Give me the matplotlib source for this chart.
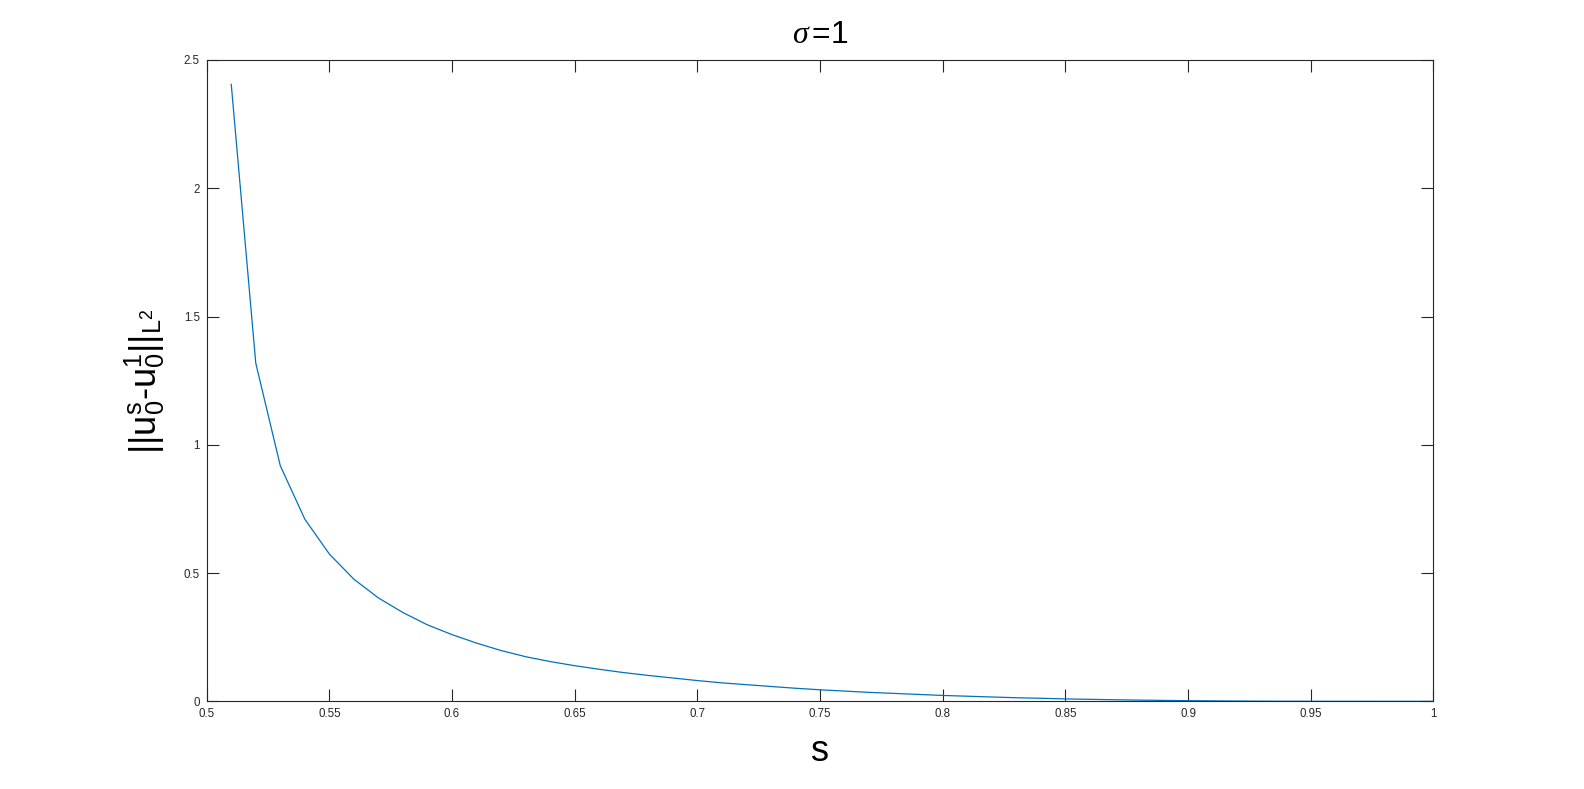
import numpy as np
import matplotlib
matplotlib.use("Agg")
import matplotlib.pyplot as plt

# valores (s = 0.51 ... 1.00)
s_vals = [0.51, 0.52, 0.53, 0.54, 0.55, 0.56, 0.57, 0.58, 0.59, 0.60,
          0.61, 0.62, 0.63, 0.64, 0.65, 0.66, 0.67, 0.68, 0.69, 0.70,
          0.71, 0.72, 0.73, 0.74, 0.75, 0.76, 0.77, 0.78, 0.79, 0.80,
          0.81, 0.82, 0.83, 0.84, 0.85, 0.86, 0.87, 0.88, 0.89, 0.90,
          0.91, 0.92, 0.93, 0.94, 0.95, 0.96, 0.97, 0.98, 0.99, 1.00]
norma = [2.405, 1.318, 0.918, 0.710, 0.574, 0.476, 0.403, 0.346, 0.298, 0.260,
         0.227, 0.198, 0.174, 0.155, 0.139, 0.125, 0.112, 0.101, 0.091, 0.081,
         0.072, 0.065, 0.058, 0.051, 0.045, 0.040, 0.035, 0.031, 0.027, 0.023,
         0.020, 0.017, 0.014, 0.012, 0.0095, 0.0078, 0.0062, 0.0048, 0.0036, 0.0026,
         0.0018, 0.0012, 0.0007, 0.0004, 0.0002, 0.0001, 0.00004, 0.00001, 0.0, 0.0]

xticks = [0.5, 0.55, 0.6, 0.65, 0.7, 0.75, 0.8, 0.85, 0.9, 0.95, 1.0]
xtick_labels = ["0.5", "0.55", "0.6", "0.65", "0.7", "0.75", "0.8", "0.85", "0.9", "0.95", "1"]
yticks = [0, 0.5, 1, 1.5, 2, 2.5]
ytick_labels = ["0", "0.5", "1", "1.5", "2", "2.5"]

plt.rcParams["font.family"] = ["Liberation Sans", "DejaVu Sans"]
plt.rcParams["mathtext.fontset"] = "custom"
plt.rcParams["mathtext.rm"] = "Liberation Sans"
plt.rcParams["mathtext.it"] = "Liberation Serif:italic"

cinza = "#262626"

fig = plt.figure(figsize=(15.84, 7.89), dpi=100)
ax = fig.add_axes([0.1305, 0.1111, 0.7744, 0.8129])

ax.plot(s_vals, norma, color="#0072BD", lw=0.9)

ax.set_xlim(0.5, 1.0)
ax.set_ylim(0, 2.5)
ax.set_xticks(xticks)
ax.set_xticklabels(xtick_labels)
ax.set_yticks(yticks)
ax.set_yticklabels(ytick_labels)
ax.tick_params(direction="in", length=8.6, width=0.8, colors=cinza, labelsize=8.3,
               top=True, right=True, pad=5)
for sp in ax.spines.values():
    sp.set_color(cinza)
    sp.set_linewidth(0.8)

ax.set_title(r"$\sigma\,$=1", fontsize=23, color="black", pad=12)
ax.set_xlabel("s", fontsize=26, color="black", labelpad=10)
ax.set_ylabel(r"||u$_\mathrm{0}^\mathrm{s}$-u$_\mathrm{0}^\mathrm{1}$||$_{\mathrm{L}^\mathrm{2}}$",
              fontsize=26, color="black", labelpad=12)

fig.savefig("out.png", dpi=100, facecolor="white")
